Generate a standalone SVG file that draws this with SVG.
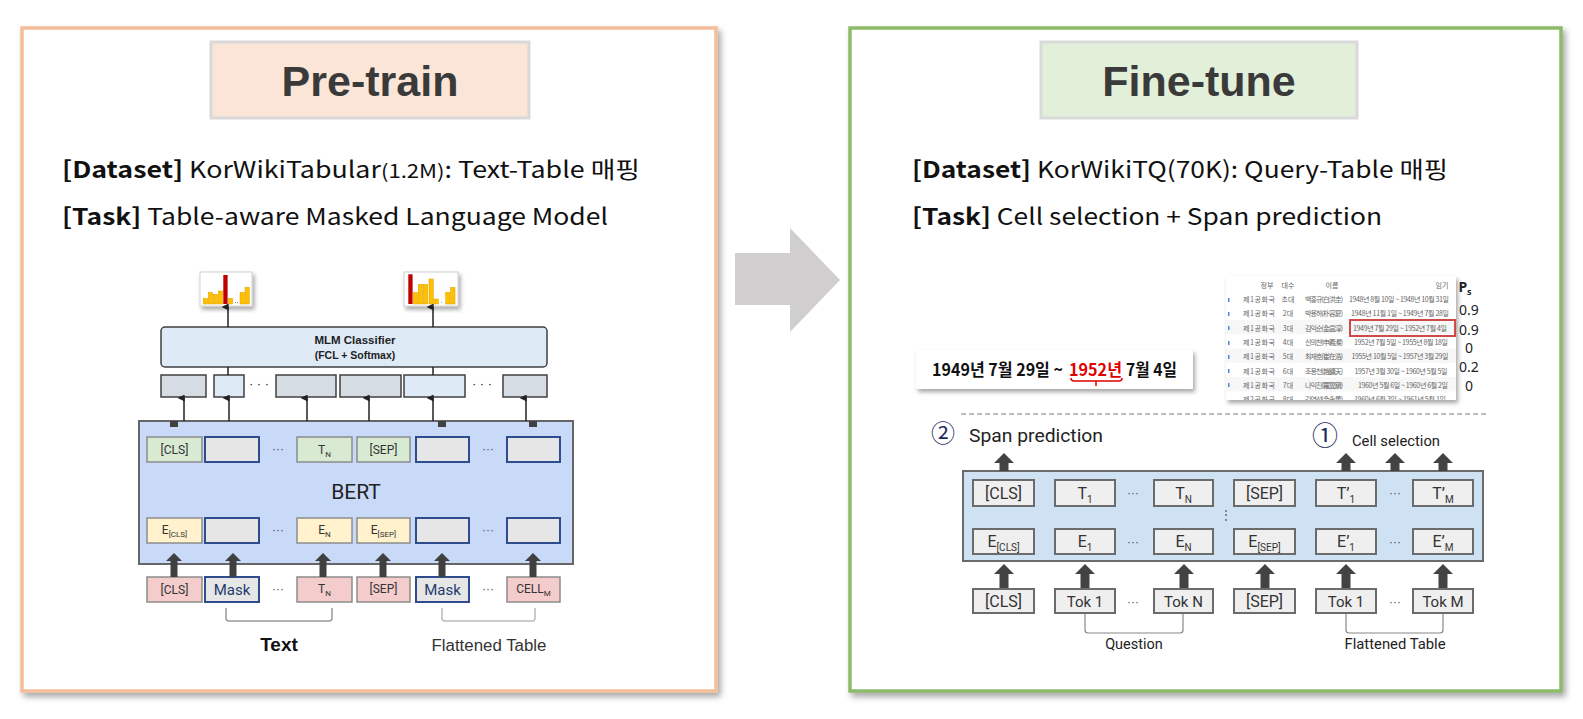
<svg xmlns="http://www.w3.org/2000/svg" width="1583" height="719" viewBox="0 0 1583 719">
<defs>
<filter id="sh" x="-5%" y="-5%" width="112%" height="112%"><feDropShadow dx="3" dy="4" stdDeviation="3" flood-color="#000" flood-opacity="0.35"/></filter>
<filter id="sh2" x="-10%" y="-10%" width="125%" height="130%"><feDropShadow dx="2" dy="3" stdDeviation="2" flood-color="#000" flood-opacity="0.35"/></filter>
<marker id="ah" viewBox="0 0 10 10" refX="5" refY="9" markerWidth="7" markerHeight="7" markerUnits="userSpaceOnUse" orient="auto-start-reverse"><path d="M0,10 L5,0 L10,10 Z" fill="#222"/></marker>
<path id="baL" d="M0,0 L8,8 L3.5,8 L3.5,24 L-3.5,24 L-3.5,8 L-8,8 Z" fill="#404040"/>
<path id="baT" d="M0,0 L10,10 L4.5,10 L4.5,18 L-4.5,18 L-4.5,10 L-10,10 Z" fill="#434343"/>
<path id="baB" d="M0,0 L10,10 L4.5,10 L4.5,24 L-4.5,24 L-4.5,10 L-10,10 Z" fill="#434343"/>
<clipPath id="tclip"><rect x="1226" y="276" width="230" height="124"/></clipPath>
</defs>
<style>
.title{font-family:"Liberation Sans","Noto Sans CJK KR",sans-serif;font-weight:bold;font-size:43px;fill:#3A3A3A;text-anchor:middle}
.body{font-family:"Noto Sans CJK KR","Noto Sans",sans-serif;font-size:23px;fill:#111}
.b{font-weight:bold}
.rb{font-family:Roboto,"Liberation Sans",sans-serif;fill:#333;text-anchor:middle}
.lt{font-size:12px}
.g{fill:#D9EAD3;stroke:#8C8C8C;stroke-width:1.5}
.y{fill:#FFF2CC;stroke:#8C8C8C;stroke-width:1.5}
.p{fill:#F4CCCC;stroke:#8C8C8C;stroke-width:1.5}
.m{fill:#E6E6E6;stroke:#2F4C8C;stroke-width:2}
.rbox{fill:#EFEFEF;stroke:#6B6B6B;stroke-width:2}
.thin{stroke:#222;stroke-width:1.5;fill:none}
.bar{fill:#FFC000;stroke:#E0A000;stroke-width:0.5}
.red{fill:#C00000}
.tt{font-family:"Noto Sans CJK KR",sans-serif;font-size:7px;fill:#666;text-anchor:middle}
.ps{font-family:"Noto Sans","Liberation Sans",sans-serif;font-size:14px;fill:#222;text-anchor:middle}
.dots{font-family:"Liberation Sans",sans-serif;font-size:12px;fill:#555;text-anchor:middle}
.ans{font-family:"Noto Sans CJK KR",sans-serif;font-weight:bold;font-size:17px;fill:#111}
</style>
<rect width="1583" height="719" fill="#fff"/>

<!-- Left panel -->
<g id="pretrain-panel">
<rect x="22" y="28" width="694" height="663" fill="#fff" stroke="#F5BE9A" stroke-width="3.5" filter="url(#sh)"/>
<rect x="211" y="42" width="318" height="76" fill="#FBE5D6" stroke="#D9D9D9" stroke-width="3"/>
<text class="title" x="370" y="96">Pre-train</text>
<text class="body" x="62" y="178" textLength="578" lengthAdjust="spacingAndGlyphs"><tspan class="b">[Dataset]</tspan> KorWikiTabular<tspan font-size="19">(1.2M)</tspan>: Text-Table 매핑</text>
<text class="body" x="62" y="225" textLength="546" lengthAdjust="spacingAndGlyphs"><tspan class="b">[Task]</tspan> Table-aware Masked Language Model</text>
</g>

<!-- Right panel -->
<g id="finetune-panel">
<rect x="850" y="28" width="711" height="663" fill="#fff" stroke="#8DBB6B" stroke-width="3.5" filter="url(#sh)"/>
<rect x="1041" y="42" width="316" height="76" fill="#E2F0D9" stroke="#D9D9D9" stroke-width="3"/>
<text class="title" x="1199" y="96">Fine-tune</text>
<text class="body" x="912" y="178" textLength="536" lengthAdjust="spacingAndGlyphs"><tspan class="b">[Dataset]</tspan> KorWikiTQ(70K): Query-Table 매핑</text>
<text class="body" x="912" y="225" textLength="470" lengthAdjust="spacingAndGlyphs"><tspan class="b">[Task]</tspan> Cell selection + Span prediction</text>
</g>

<!-- Center arrow -->
<g id="center-arrow">
<polygon points="735,253 790,253 790,228 840,280 790,332 790,305 735,305" fill="#D0CECE"/>
</g>

<!-- Left: histograms -->
<g id="hist1">
<rect x="200" y="272" width="52" height="34" fill="#fff" stroke="#D0D0D0" stroke-width="1" filter="url(#sh2)"/>
<rect class="bar" x="203.3" y="298.3" width="4.3" height="5.7"/>
<rect class="bar" x="208.3" y="292.3" width="4.3" height="11.7"/>
<rect class="bar" x="213.3" y="294.3" width="4.3" height="9.7"/>
<rect class="bar" x="218.3" y="291" width="4.3" height="13"/>
<rect class="red" x="223.3" y="275" width="4.3" height="29"/>
<rect class="bar" x="228.3" y="298.3" width="4.3" height="5.7"/>
<rect x="235" y="302" width="1" height="1" fill="#999"/><rect x="237" y="302" width="1" height="1" fill="#999"/>
<rect class="bar" x="240" y="292.3" width="4.3" height="11.7"/>
<rect class="bar" x="245" y="287.3" width="4.3" height="16.7"/>
</g>
<g id="hist2">
<rect x="404" y="272" width="54" height="34" fill="#fff" stroke="#D0D0D0" stroke-width="1" filter="url(#sh2)"/>
<rect class="red" x="408.3" y="274.3" width="4.3" height="29.7"/>
<rect class="bar" x="413.3" y="292.7" width="4.3" height="11.3"/>
<rect class="bar" x="418.3" y="284.3" width="4.3" height="19.7"/>
<rect class="bar" x="423.3" y="284.3" width="4.3" height="19.7"/>
<rect class="bar" x="429" y="279" width="4.3" height="25"/>
<rect class="bar" x="434" y="299" width="4.3" height="5"/>
<rect x="441" y="302" width="1" height="1" fill="#999"/>
<rect class="bar" x="445.7" y="292.3" width="4.3" height="11.7"/>
<rect class="bar" x="450.7" y="287.3" width="4.3" height="16.7"/>
</g>

<!-- Left: MLM classifier -->
<g id="mlm">
<rect x="161" y="327" width="386" height="40" rx="4" fill="#DEEBF7" stroke="#404040" stroke-width="1.5"/>
<text x="355" y="344" font-family="'Liberation Sans',sans-serif" font-weight="bold" font-size="11.5" fill="#222" text-anchor="middle">MLM Classifier</text>
<text x="355" y="359" font-family="'Liberation Sans',sans-serif" font-weight="bold" font-size="10.5" fill="#222" text-anchor="middle">(FCL + Softmax)</text>
</g>
<g id="mlm-row">
<rect x="161" y="375" width="45" height="22" fill="#D6DCE4" stroke="#404040" stroke-width="1.5"/>
<rect x="214" y="375" width="30" height="22" fill="#DEEBF7" stroke="#404040" stroke-width="1.5"/>
<text x="259" y="388" font-family="'Liberation Sans',sans-serif" font-size="13" fill="#222" text-anchor="middle">· · ·</text>
<rect x="276" y="375" width="60" height="22" fill="#D6DCE4" stroke="#404040" stroke-width="1.5"/>
<rect x="340" y="375" width="61" height="22" fill="#D6DCE4" stroke="#404040" stroke-width="1.5"/>
<rect x="404" y="375" width="61" height="22" fill="#DEEBF7" stroke="#404040" stroke-width="1.5"/>
<text x="482" y="388" font-family="'Liberation Sans',sans-serif" font-size="13" fill="#222" text-anchor="middle">· · ·</text>
<rect x="503" y="375" width="44" height="22" fill="#D6DCE4" stroke="#404040" stroke-width="1.5"/>
</g>

<!-- Left: BERT -->
<g id="bert-left">
<rect x="139" y="421" width="434" height="143" fill="#C9DAF8" stroke="#666" stroke-width="2"/>
<rect x="170" y="421" width="8" height="6" fill="#404040"/>
<rect x="438" y="421" width="8" height="6" fill="#404040"/>
<rect x="529" y="421" width="8" height="6" fill="#404040"/>
<rect class="g" x="147" y="437" width="55" height="25"/><text class="rb lt" x="174.5" y="454">[CLS]</text>
<rect class="m" x="205" y="437" width="54" height="25"/>
<text class="dots" x="278" y="453" font-size="9">···</text>
<rect class="g" x="297" y="437" width="55" height="25"/><text class="rb lt" x="324.5" y="454">T<tspan font-size="8" dy="3">N</tspan></text>
<rect class="g" x="357" y="437" width="53" height="25"/><text class="rb lt" x="383.5" y="454">[SEP]</text>
<rect class="m" x="416" y="437" width="53" height="25"/>
<text class="dots" x="488" y="453" font-size="9">···</text>
<rect class="m" x="507" y="437" width="53" height="25"/>
<text x="356" y="499" font-family="Roboto,'Liberation Sans',sans-serif" font-size="21" fill="#222" text-anchor="middle">BERT</text>
<rect class="y" x="147" y="518" width="55" height="25"/><text class="rb lt" x="174.5" y="534">E<tspan font-size="8" dy="3">[CLS]</tspan></text>
<rect class="m" x="205" y="518" width="54" height="25"/>
<text class="dots" x="278" y="534" font-size="9">···</text>
<rect class="y" x="297" y="518" width="55" height="25"/><text class="rb lt" x="324.5" y="534">E<tspan font-size="8" dy="3">N</tspan></text>
<rect class="y" x="357" y="518" width="53" height="25"/><text class="rb lt" x="383.5" y="534">E<tspan font-size="8" dy="3">[SEP]</tspan></text>
<rect class="m" x="416" y="518" width="53" height="25"/>
<text class="dots" x="488" y="534" font-size="9">···</text>
<rect class="m" x="507" y="518" width="53" height="25"/>
</g>

<!-- Left: inputs -->
<g id="inputs-left">
<rect class="p" x="147" y="577" width="55" height="25"/><text class="rb lt" x="174.5" y="594">[CLS]</text>
<rect class="m" x="205" y="577" width="54" height="25"/><text class="rb" x="232" y="595" font-size="15" style="fill:#1F3A6E">Mask</text>
<text class="dots" x="278" y="593" font-size="9">···</text>
<rect class="p" x="297" y="577" width="55" height="25"/><text class="rb lt" x="324.5" y="593">T<tspan font-size="8" dy="3">N</tspan></text>
<rect class="p" x="357" y="577" width="53" height="25"/><text class="rb lt" x="383.5" y="593">[SEP]</text>
<rect class="m" x="416" y="577" width="53" height="25"/><text class="rb" x="442.5" y="595" font-size="15" style="fill:#1F3A6E">Mask</text>
<text class="dots" x="488" y="593" font-size="9">···</text>
<rect class="p" x="507" y="577" width="53" height="25"/><text class="rb lt" x="533.5" y="593">CELL<tspan font-size="8" dy="3">M</tspan></text>
<path d="M226,608 L226,618 Q226,621 229,621 L329,621 Q332,621 332,618 L332,608" fill="none" stroke="#999" stroke-width="1.5"/>
<path d="M442,608 L442,618 Q442,621 445,621 L532,621 Q535,621 535,618 L535,608" fill="none" stroke="#BBB" stroke-width="1.5"/>
<text x="279" y="651" font-family="'Liberation Sans',sans-serif" font-weight="bold" font-size="19" fill="#111" text-anchor="middle">Text</text>
<text x="489" y="651" font-family="'Liberation Sans',sans-serif" font-size="16" fill="#333" text-anchor="middle" textLength="115" lengthAdjust="spacingAndGlyphs">Flattened Table</text>
</g>

<!-- Right: table screenshot -->
<g id="table">
<rect x="1226" y="276" width="230" height="124" fill="#fff" filter="url(#sh2)"/>
<g clip-path="url(#tclip)">
<rect x="1226" y="320" width="230" height="14.3" fill="#F7F7F7"/>
<rect x="1226" y="348.6" width="230" height="14.3" fill="#F7F7F7"/>
<rect x="1226" y="377.2" width="230" height="14.3" fill="#F7F7F7"/>
<text class="tt" x="1267" y="288">정부</text><text class="tt" x="1288" y="288">대수</text><text class="tt" x="1332" y="288">이름</text><text class="tt" x="1442" y="288">임기</text>
<g fill="#4A86E8"><rect x="1228" y="298" width="1.5" height="4"/><rect x="1228" y="312" width="1.5" height="4"/><rect x="1228" y="326" width="1.5" height="4"/><rect x="1228" y="341" width="1.5" height="4"/><rect x="1228" y="355" width="1.5" height="4"/><rect x="1228" y="369" width="1.5" height="4"/><rect x="1228" y="383" width="1.5" height="4"/></g>
<text class="tt" x="1259" y="302" textLength="32">제1공화국</text><text class="tt" x="1288" y="302">초대</text><text class="tt" x="1324" y="302" textLength="38">백홍규(白洪圭)</text><text class="tt" x="1399" y="302" textLength="100" font-size="6.5">1948년 8월 10일 ~ 1948년 10월 31일</text>
<text class="tt" x="1259" y="316.3" textLength="32">제1공화국</text><text class="tt" x="1288" y="316.3">2대</text><text class="tt" x="1324" y="316.3" textLength="38">박용하(朴容夏)</text><text class="tt" x="1400" y="316.3" textLength="98" font-size="6.5">1948년 11월 1일 ~ 1949년 7월 28일</text>
<text class="tt" x="1259" y="330.6" textLength="32">제1공화국</text><text class="tt" x="1288" y="330.6">3대</text><text class="tt" x="1324" y="330.6" textLength="38">김익순(金益淳)</text><text class="tt" x="1400" y="330.6" textLength="94" font-size="6.5">1949년 7월 29일 ~ 1952년 7월 4일</text>
<text class="tt" x="1259" y="344.9" textLength="32">제1공화국</text><text class="tt" x="1288" y="344.9">4대</text><text class="tt" x="1324" y="344.9" textLength="38">신의찬(申義澯)</text><text class="tt" x="1401" y="344.9" textLength="94" font-size="6.5">1952년 7월 5일 ~ 1955년 8월 18일</text>
<text class="tt" x="1259" y="359.2" textLength="32">제1공화국</text><text class="tt" x="1288" y="359.2">5대</text><text class="tt" x="1324" y="359.2" textLength="38">최재호(崔在浩)</text><text class="tt" x="1400" y="359.2" textLength="97" font-size="6.5">1955년 10월 5일 ~ 1957년 3월 29일</text>
<text class="tt" x="1259" y="373.5" textLength="32">제1공화국</text><text class="tt" x="1288" y="373.5">6대</text><text class="tt" x="1324" y="373.5" textLength="38">조용천(趙鏞天)</text><text class="tt" x="1401" y="373.5" textLength="93" font-size="6.5">1957년 3월 30일 ~ 1960년 5월 5일</text>
<text class="tt" x="1259" y="387.8" textLength="32">제1공화국</text><text class="tt" x="1288" y="387.8">7대</text><text class="tt" x="1324" y="387.8" textLength="38">나익진(羅翼鎭)</text><text class="tt" x="1403" y="387.8" textLength="90" font-size="6.5">1960년 5월 6일 ~ 1960년 6월 2일</text>
<text class="tt" x="1259" y="402" textLength="32">제2공화국</text><text class="tt" x="1288" y="402">8대</text><text class="tt" x="1324" y="402" textLength="38">김영선(金永善)</text><text class="tt" x="1400" y="402" textLength="92" font-size="6.5">1960년 6월 3일 ~ 1961년 5월 1일</text>
</g>
<rect x="1350" y="320" width="105" height="16" fill="none" stroke="#D04A4A" stroke-width="2"/>
</g>
<g id="ps-column">
<text class="ps" x="1465" y="292" font-weight="bold">P<tspan font-size="9" dy="3">s</tspan></text>
<text class="ps" x="1469" y="315">0.9</text>
<text class="ps" x="1469" y="335">0.9</text>
<text class="ps" x="1469" y="353">0</text>
<text class="ps" x="1469" y="372">0.2</text>
<text class="ps" x="1469" y="391">0</text>
</g>

<!-- Right: date answer -->
<g id="answer">
<rect x="916" y="350" width="277" height="39" fill="#fff" filter="url(#sh2)"/>
<text class="ans" x="932" y="376" textLength="131" lengthAdjust="spacingAndGlyphs">1949년 7월 29일 ~</text>
<text class="ans" x="1069" y="376" fill="#E00000" style="fill:#E00000" textLength="53" lengthAdjust="spacingAndGlyphs">1952년</text>
<text class="ans" x="1126" y="376" textLength="51" lengthAdjust="spacingAndGlyphs">7월 4일</text>
<path d="M1071,378 Q1071,381 1074,381 L1119,381 Q1122,381 1122,378 M1096,381 L1096,386" fill="none" stroke="#E00000" stroke-width="1.5"/>
</g>
<line x1="961" y1="414" x2="1487" y2="414" stroke="#A6A6A6" stroke-width="1.5" stroke-dasharray="5 3"/>

<!-- Right: labels -->
<g id="labels-right">
<text x="943" y="442" font-family="'Noto Sans CJK KR',sans-serif" font-size="24" fill="#1A2A5A" text-anchor="middle">②</text>
<text x="969" y="442" font-family="Roboto,'Liberation Sans',sans-serif" font-size="18" fill="#222" textLength="134" lengthAdjust="spacingAndGlyphs">Span prediction</text>
<text x="1325" y="445" font-family="'Noto Sans CJK KR',sans-serif" font-size="26" fill="#1A2A5A" text-anchor="middle">①</text>
<text x="1352" y="446" font-family="Roboto,'Liberation Sans',sans-serif" font-size="14.5" fill="#222" textLength="88" lengthAdjust="spacingAndGlyphs">Cell selection</text>
</g>

<!-- Right: BERT -->
<g id="bert-right">
<rect x="963" y="471" width="520" height="90" fill="#CFE2F3" stroke="#6B6B6B" stroke-width="2"/>
<rect class="rbox" x="973" y="480" width="61" height="26"/><text class="rb" x="1003.5" y="499" font-size="16">[CLS]</text>
<rect class="rbox" x="1055" y="480" width="60" height="26"/><text class="rb" x="1085" y="499" font-size="16">T<tspan font-size="10" dy="4">1</tspan></text>
<text class="dots" x="1133" y="497" font-size="10">···</text>
<rect class="rbox" x="1154" y="480" width="59" height="26"/><text class="rb" x="1183.5" y="499" font-size="16">T<tspan font-size="10" dy="4">N</tspan></text>
<rect class="rbox" x="1234" y="480" width="61" height="26"/><text class="rb" x="1264.5" y="499" font-size="16">[SEP]</text>
<rect class="rbox" x="1316" y="480" width="60" height="26"/><text class="rb" x="1346" y="499" font-size="16">T’<tspan font-size="10" dy="4">1</tspan></text>
<text class="dots" x="1395" y="497" font-size="10">···</text>
<rect class="rbox" x="1413" y="480" width="60" height="26"/><text class="rb" x="1443" y="499" font-size="16">T’<tspan font-size="10" dy="4">M</tspan></text>
<text class="dots" x="1226" y="519" font-size="10">⋮</text>
<rect class="rbox" x="973" y="529" width="61" height="25"/><text class="rb" x="1003.5" y="547" font-size="16">E<tspan font-size="10" dy="4">[CLS]</tspan></text>
<rect class="rbox" x="1055" y="529" width="60" height="25"/><text class="rb" x="1085" y="547" font-size="16">E<tspan font-size="10" dy="4">1</tspan></text>
<text class="dots" x="1133" y="546" font-size="10">···</text>
<rect class="rbox" x="1154" y="529" width="59" height="25"/><text class="rb" x="1183.5" y="547" font-size="16">E<tspan font-size="10" dy="4">N</tspan></text>
<rect class="rbox" x="1234" y="529" width="61" height="25"/><text class="rb" x="1264.5" y="547" font-size="16">E<tspan font-size="10" dy="4">[SEP]</tspan></text>
<rect class="rbox" x="1316" y="529" width="60" height="25"/><text class="rb" x="1346" y="547" font-size="16">E’<tspan font-size="10" dy="4">1</tspan></text>
<text class="dots" x="1395" y="546" font-size="10">···</text>
<rect class="rbox" x="1413" y="529" width="60" height="25"/><text class="rb" x="1443" y="547" font-size="16">E’<tspan font-size="10" dy="4">M</tspan></text>
</g>

<!-- Right: inputs -->
<g id="inputs-right">
<rect class="rbox" x="973" y="589" width="61" height="24"/><text class="rb" x="1003.5" y="607" font-size="16">[CLS]</text>
<rect class="rbox" x="1055" y="589" width="60" height="24"/><text class="rb" x="1085" y="607" font-size="15">Tok 1</text>
<text class="dots" x="1133" y="606" font-size="10">···</text>
<rect class="rbox" x="1154" y="589" width="59" height="24"/><text class="rb" x="1183.5" y="607" font-size="15">Tok N</text>
<rect class="rbox" x="1234" y="589" width="61" height="24"/><text class="rb" x="1264.5" y="607" font-size="16">[SEP]</text>
<rect class="rbox" x="1316" y="589" width="60" height="24"/><text class="rb" x="1346" y="607" font-size="15">Tok 1</text>
<text class="dots" x="1395" y="606" font-size="10">···</text>
<rect class="rbox" x="1413" y="589" width="60" height="24"/><text class="rb" x="1443" y="607" font-size="15">Tok M</text>
<path d="M1085,614 L1085,630 Q1085,633 1088,633 L1180,633 Q1183,633 1183,630 L1183,614" fill="none" stroke="#888" stroke-width="1.2"/>
<path d="M1346,614 L1346,630 Q1346,633 1349,633 L1440,633 Q1443,633 1443,630 L1443,614" fill="none" stroke="#888" stroke-width="1.2"/>
<text class="rb" x="1134" y="649" font-size="14.5" style="fill:#222">Question</text>
<text class="rb" x="1395" y="649" font-size="14.5" style="fill:#222" textLength="101" lengthAdjust="spacingAndGlyphs">Flattened Table</text>
</g>

<!-- Connectors -->
<g id="connectors">
<line class="thin" x1="228" y1="327" x2="228" y2="307" marker-end="url(#ah)"/>
<line class="thin" x1="433" y1="327" x2="433" y2="307" marker-end="url(#ah)"/>
<line class="thin" x1="228" y1="367" x2="228" y2="375"/>
<line class="thin" x1="433" y1="367" x2="433" y2="375"/>
<line class="thin" x1="184" y1="421" x2="184" y2="398" marker-end="url(#ah)"/>
<line class="thin" x1="229" y1="421" x2="229" y2="398" marker-end="url(#ah)"/>
<line class="thin" x1="307" y1="421" x2="307" y2="398" marker-end="url(#ah)"/>
<line class="thin" x1="369" y1="421" x2="369" y2="398" marker-end="url(#ah)"/>
<line class="thin" x1="433" y1="421" x2="433" y2="398" marker-end="url(#ah)"/>
<line class="thin" x1="526" y1="421" x2="526" y2="398" marker-end="url(#ah)"/>
<use href="#baL" x="174" y="553"/>
<use href="#baL" x="233" y="553"/>
<use href="#baL" x="323" y="553"/>
<use href="#baL" x="383" y="553"/>
<use href="#baL" x="442" y="553"/>
<use href="#baL" x="533" y="553"/>
<use href="#baT" x="1004" y="453"/>
<use href="#baT" x="1346" y="453"/>
<use href="#baT" x="1395" y="453"/>
<use href="#baT" x="1443" y="453"/>
<use href="#baB" x="1004" y="564"/>
<use href="#baB" x="1085" y="564"/>
<use href="#baB" x="1184" y="564"/>
<use href="#baB" x="1265" y="564"/>
<use href="#baB" x="1346" y="564"/>
<use href="#baB" x="1443" y="564"/>
</g>
</svg>
